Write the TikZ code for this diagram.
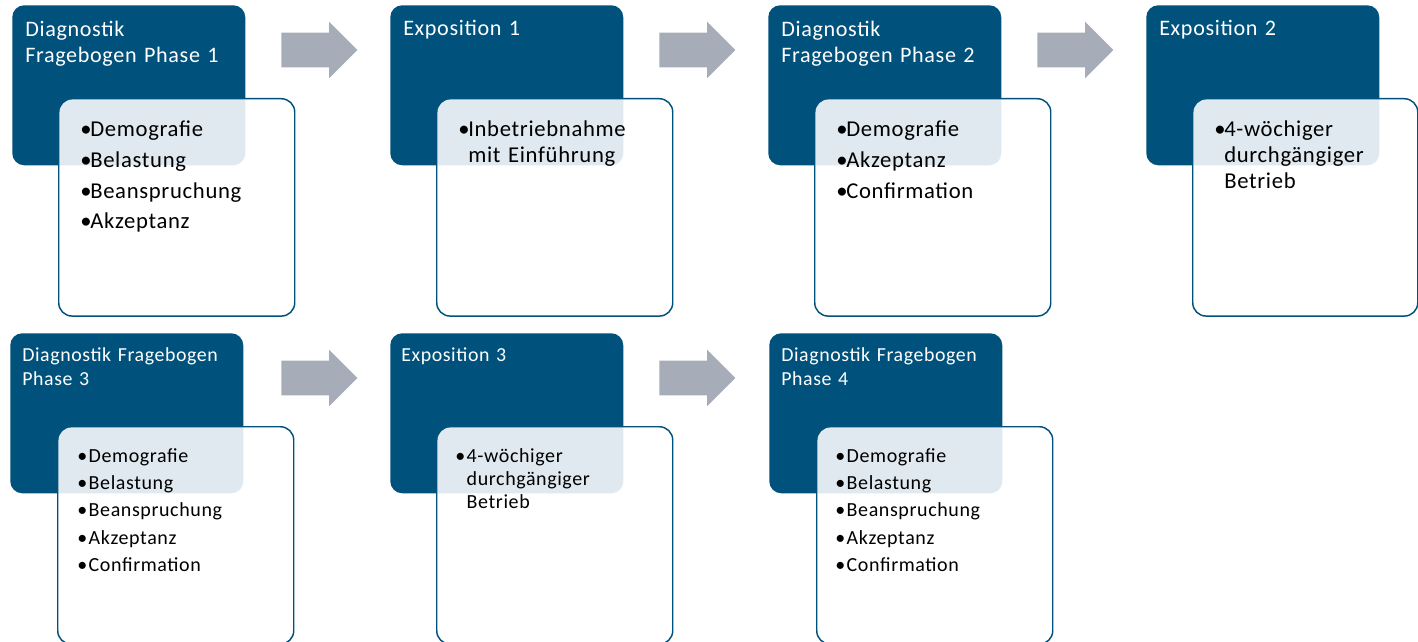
\documentclass[tikz,border=0pt]{standalone}
\usepackage{fontspec}
\setmainfont{Carlito}[LetterSpace=3]
\usetikzlibrary{shapes.arrows}
\definecolor{phaseblue}{RGB}{0,82,124}
\definecolor{arrowgray}{RGB}{166,173,185}
\newcommand{\itm}[1]{\makebox[7.5pt][l]{\textbullet}#1}
\newcommand{\itmb}[1]{\makebox[8.6pt][l]{\textbullet}#1}

\begin{document}
\begin{tikzpicture}[x=0.75pt,y=-0.75pt,
    phase/.style={fill=phaseblue,rounded corners=9pt,anchor=north west,inner sep=0pt,
                  minimum width=174.75pt,minimum height=120pt},
    detail/.style={draw=phaseblue,line width=1.1pt,fill=white,fill opacity=0.88,
                   rounded corners=10pt,anchor=north west,inner sep=0pt,
                   minimum width=177pt,minimum height=163pt},
    ttl/.style={text=white,anchor=base west,inner sep=0pt,align=left,text width=170pt,
                font=\fontsize{16.6}{19.5}\selectfont},
    ttlb/.style={ttl,font=\fontsize{14.9}{18}\selectfont},
    items/.style={anchor=base west,inner sep=0pt,align=left,text width=170pt,
                  font=\fontsize{17}{19.5}\selectfont},
    itemsb/.style={items,font=\fontsize{15}{17.6}\selectfont},
    flow/.style={single arrow,fill=arrowgray,inner xsep=0pt,inner ysep=12.75pt,anchor=tail,
                 minimum height=57pt,minimum width=42pt,single arrow head extend=8.25pt}]
\clip (0,0) rectangle (1418,642);

\node[phase] (p1) at (12,5) {};
\node[detail] (d1) at (58,98) {};
\node[ttl] (t1) at (25,37) {Diagnostik\\Fragebogen Phase 1};
\node[items] (i1) at (80,137) {\itm{Demografie}\\[3.4pt]\itm{Belastung}\\[3.4pt]\itm{Beanspruchung}\\[3.4pt]\itm{Akzeptanz}};

\node[phase] (p2) at (390,5) {};
\node[detail] (d2) at (436,98) {};
\node[ttl] (t2) at (403,36) {Exposition 1};
\node[items] (i2) at (458,137) {\itm{Inbetriebnahme}\\\hspace*{7.5pt}mit Einführung};

\node[phase] (p3) at (768,5) {};
\node[detail] (d3) at (814,98) {};
\node[ttl] (t3) at (781,37) {Diagnostik\\Fragebogen Phase 2};
\node[items] (i3) at (836,137) {\itm{Demografie}\\[3.4pt]\itm{Akzeptanz}\\[3.4pt]\itm{Confirmation}};

\node[phase] (p4) at (1146,5) {};
\node[detail,minimum width=168.75pt] (d4) at (1192,98) {};
\node[ttl] (t4) at (1159,36) {Exposition 2};
\node[items] (i4) at (1214,137) {\itm{4-wöchiger}\\\hspace*{7.5pt}durchgängiger\\\hspace*{7.5pt}Betrieb};

\node[phase] (p5) at (10,333) {};
\node[detail] (d5) at (57,426) {};
\node[ttlb] (t5) at (22,361) {Diagnostik Fragebogen\\Phase 3};
\node[itemsb] (i5) at (77,462) {\itmb{Demografie}\\[3pt]\itmb{Belastung}\\[3pt]\itmb{Beanspruchung}\\[3pt]\itmb{Akzeptanz}\\[3pt]\itmb{Confirmation}};

\node[phase] (p6) at (390,333) {};
\node[detail] (d6) at (436,426) {};
\node[ttlb] (t6) at (401,361) {Exposition 3};
\node[itemsb] (i6) at (455,462) {\itmb{4-wöchiger}\\\hspace*{8.6pt}durchgängiger\\\hspace*{8.6pt}Betrieb};

\node[phase] (p7) at (769,333) {};
\node[detail] (d7) at (816,426) {};
\node[ttlb] (t7) at (781,361) {Diagnostik Fragebogen\\Phase 4};
\node[itemsb] (i7) at (835,462) {\itmb{Demografie}\\[3pt]\itmb{Belastung}\\[3pt]\itmb{Beanspruchung}\\[3pt]\itmb{Akzeptanz}\\[3pt]\itmb{Confirmation}};

\node[flow] (a1) at (281,50) {};
\node[flow] (a2) at (659,50) {};
\node[flow] (a3) at (1037,50) {};
\node[flow] (a4) at (281,378) {};
\node[flow] (a5) at (659,378) {};
\end{tikzpicture}
\end{document}
